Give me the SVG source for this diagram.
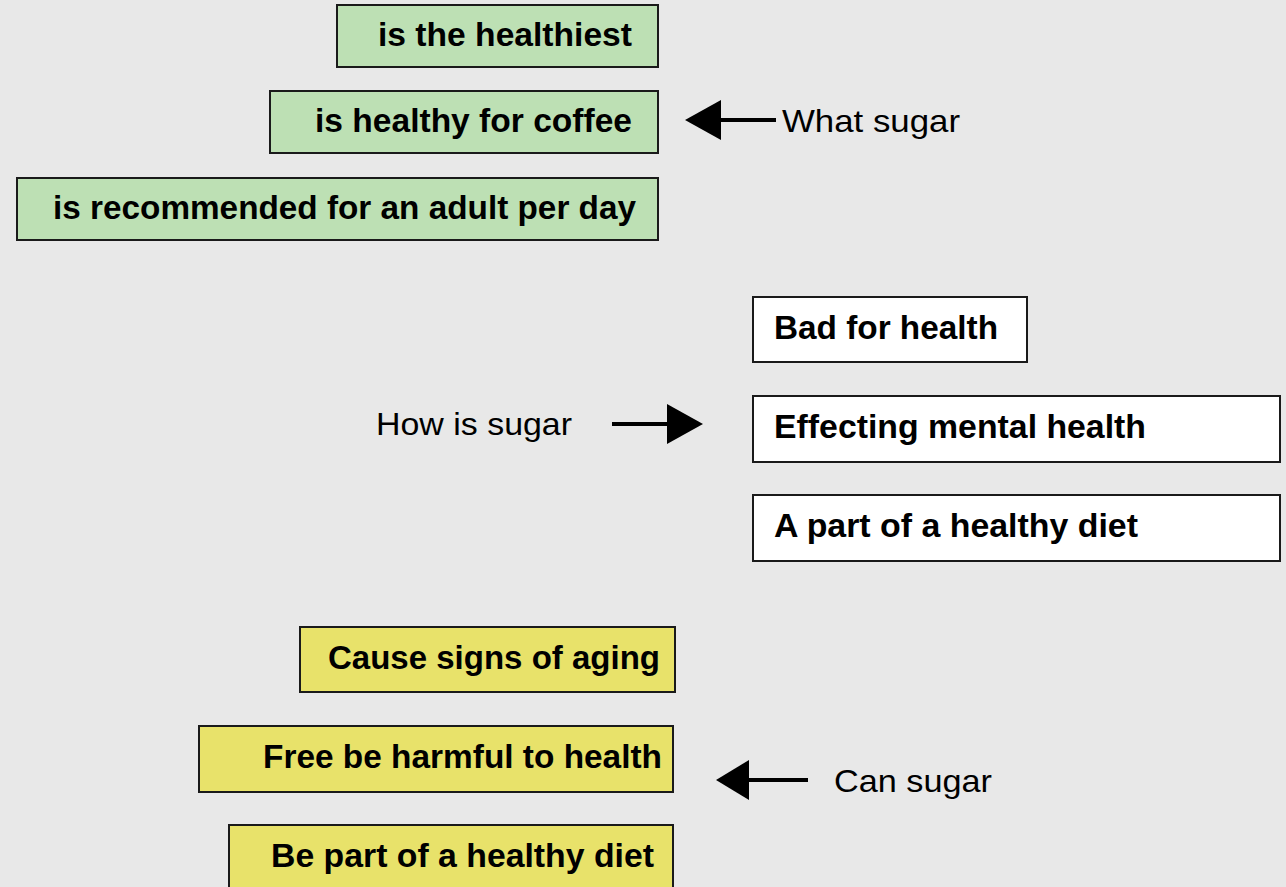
<svg xmlns="http://www.w3.org/2000/svg" width="1286" height="887" viewBox="0 0 1286 887">
<style>
.box{stroke:#1a1a1a;stroke-width:2}
.g{fill:#bde0b4}
.y{fill:#e8e26a}
.w{fill:#ffffff}
.bt{font-family:"Liberation Sans",Arial,sans-serif;font-weight:bold;font-size:33px;fill:#000}
.lt{font-family:"Liberation Sans",Arial,sans-serif;font-size:32px;fill:#000}
.ln{stroke:#000;stroke-width:4;fill:none}
.hd{fill:#000}
</style>
<rect width="1286" height="887" fill="#e8e8e8"/>
<g id="green1"><rect class="box g" x="337" y="5" width="321" height="62"/><text class="bt" x="632" y="46" text-anchor="end" textLength="254" lengthAdjust="spacingAndGlyphs">is the healthiest</text></g>
<g id="green2"><rect class="box g" x="270" y="91" width="388" height="62"/><text class="bt" x="632" y="132" text-anchor="end" textLength="317" lengthAdjust="spacingAndGlyphs">is healthy for coffee</text></g>
<g id="green3"><rect class="box g" x="17" y="178" width="641" height="62"/><text class="bt" x="636" y="219" text-anchor="end" textLength="583" lengthAdjust="spacingAndGlyphs">is recommended for an adult per day</text></g>
<g id="what-sugar"><text class="lt" x="782" y="132" textLength="178" lengthAdjust="spacingAndGlyphs">What sugar</text></g>
<g id="white1"><rect class="box w" x="753" y="297" width="274" height="65"/><text class="bt" x="774" y="339" textLength="224" lengthAdjust="spacingAndGlyphs">Bad for health</text></g>
<g id="white2"><rect class="box w" x="753" y="396" width="527" height="66"/><text class="bt" x="774" y="438" textLength="372" lengthAdjust="spacingAndGlyphs">Effecting mental health</text></g>
<g id="white3"><rect class="box w" x="753" y="495" width="527" height="66"/><text class="bt" x="774" y="537" textLength="364" lengthAdjust="spacingAndGlyphs">A part of a healthy diet</text></g>
<g id="how-sugar"><text class="lt" x="376" y="435" textLength="196" lengthAdjust="spacingAndGlyphs">How is sugar</text></g>
<g id="yellow1"><rect class="box y" x="300" y="627" width="375" height="65"/><text class="bt" x="660" y="669" text-anchor="end" textLength="332" lengthAdjust="spacingAndGlyphs">Cause signs of aging</text></g>
<g id="yellow2"><rect class="box y" x="199" y="726" width="474" height="66"/><text class="bt" x="662" y="768" text-anchor="end" textLength="399" lengthAdjust="spacingAndGlyphs">Free be harmful to health</text></g>
<g id="yellow3"><rect class="box y" x="229" y="825" width="444" height="66"/><text class="bt" x="654" y="867" text-anchor="end" textLength="383" lengthAdjust="spacingAndGlyphs">Be part of a healthy diet</text></g>
<g id="can-sugar"><text class="lt" x="834" y="792" textLength="158" lengthAdjust="spacingAndGlyphs">Can sugar</text></g>
<g id="connectors">
<line class="ln" x1="718" y1="120" x2="776" y2="120"/><polygon class="hd" points="685,120 721,100 721,140"/>
<line class="ln" x1="612" y1="424" x2="670" y2="424"/><polygon class="hd" points="703,424 667,404 667,444"/>
<line class="ln" x1="746" y1="780" x2="808" y2="780"/><polygon class="hd" points="716,780 749,760 749,800"/>
</g>
</svg>
